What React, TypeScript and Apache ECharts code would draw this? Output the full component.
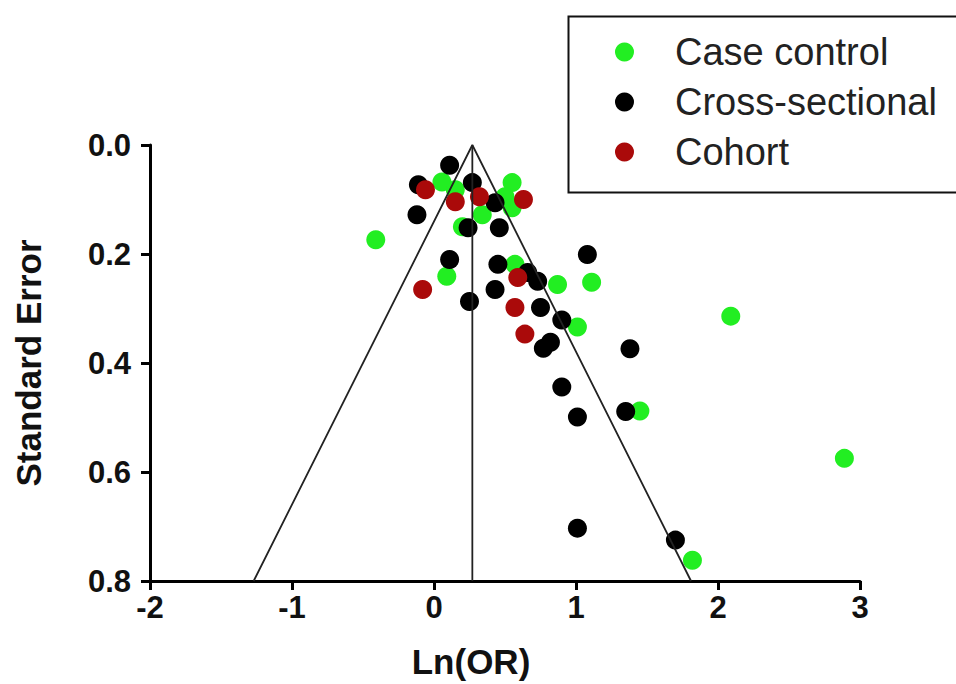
import React, { useEffect, useRef } from "react";
import * as echarts from "echarts";

// Case control: [Ln(OR), Standard Error]
const caseControl: number[][] = [
  [-0.41, 0.174], [0.056, 0.068], [0.15, 0.082], [0.55, 0.069], [0.5, 0.095],
  [0.55, 0.115], [0.34, 0.128], [0.2, 0.15], [0.09, 0.241], [0.57, 0.219],
  [0.87, 0.256], [1.11, 0.252], [1.01, 0.334], [2.09, 0.314], [1.45, 0.488],
  [2.89, 0.575], [1.82, 0.762],
];
const crossSectional: number[][] = [
  [0.11, 0.037], [-0.11, 0.073], [0.27, 0.069], [0.43, 0.106], [-0.12, 0.128],
  [0.24, 0.152], [0.46, 0.152], [0.11, 0.21], [0.45, 0.219], [0.66, 0.234],
  [0.73, 0.25], [1.08, 0.201], [0.43, 0.265], [0.25, 0.287], [0.75, 0.298],
  [0.9, 0.321], [0.77, 0.373], [0.82, 0.362], [1.38, 0.374], [0.9, 0.444],
  [1.01, 0.499], [1.35, 0.489], [1.01, 0.703], [1.7, 0.725],
];
const cohort: number[][] = [
  [-0.06, 0.082], [0.15, 0.104], [0.32, 0.095], [0.63, 0.1], [-0.08, 0.265],
  [0.59, 0.243], [0.57, 0.298], [0.64, 0.347],
];
// funnel outline: pooled estimate and limits at SE = 0.8
const funnelOutline: number[][] = [[-1.27, 0.8], [0.27, 0], [1.81, 0.8]];
const pooledLine: number[][] = [[0.27, 0], [0.27, 0.8]];

const seriesNames = ["Case control", "Cross-sectional", "Cohort"];
const seriesColors = ["#22ee22", "#000000", "#aa0a0a"];

export default function App() {
  const ref = useRef<HTMLDivElement>(null);
  useEffect(() => {
    if (!ref.current) return;
    const chart = echarts.init(ref.current, undefined, { renderer: "svg" });
    const font = "'Liberation Sans', Arial, sans-serif";
    const axisCommon = {
      axisLine: { show: true, onZero: false, lineStyle: { color: "#000", width: 3 } },
      axisTick: { show: true, length: 9, lineStyle: { color: "#000", width: 3 } },
      splitLine: { show: false },
      axisLabel: { color: "#111", fontSize: 31, fontWeight: "bold", fontFamily: font },
      nameTextStyle: { color: "#111", fontSize: 35, fontWeight: "bold", fontFamily: font },
    };
    const scatter = (name: string, data: number[][], color: string) => ({
      type: "scatter",
      name,
      data,
      symbol: "circle",
      symbolSize: 19,
      itemStyle: { color, opacity: 1 },
      z: 2,
    });
    chart.setOption({
      animation: false,
      backgroundColor: "#fff",
      grid: { left: 150, right: 96, top: 145, bottom: 101 },
      xAxis: {
        type: "value",
        min: -2,
        max: 3,
        interval: 1,
        position: "bottom",
        name: "Ln(OR)",
        nameLocation: "middle",
        nameGap: 63,
        ...axisCommon,
        nameTextStyle: { ...axisCommon.nameTextStyle, padding: [0, 68, 0, 0] },
        axisLabel: { ...axisCommon.axisLabel, margin: 11 },
      },
      yAxis: {
        type: "value",
        min: 0,
        max: 0.8,
        interval: 0.2,
        inverse: true,
        name: "Standard Error",
        nameLocation: "middle",
        nameGap: 104,
        ...axisCommon,
        axisLabel: {
          ...axisCommon.axisLabel,
          margin: 19,
          formatter: (v: number) => v.toFixed(1),
        },
      },
      legend: {
        orient: "vertical",
        left: 610,
        top: 28,
        itemWidth: 19,
        itemHeight: 19,
        itemGap: 12,
        icon: "circle",
        data: seriesNames,
        textStyle: {
          color: "#222",
          fontSize: 38,
          fontFamily: font,
          lineHeight: 38,
          padding: [0, 0, 0, 36],
        },
      },
      graphic: [
        {
          type: "rect",
          left: 566,
          top: 14,
          shape: { width: 400, height: 176 },
          style: { fill: "none", stroke: "#111", lineWidth: 2 },
        },
      ],
      series: [
        scatter(seriesNames[0], caseControl, seriesColors[0]),
        scatter(seriesNames[1], crossSectional, seriesColors[1]),
        scatter(seriesNames[2], cohort, seriesColors[2]),
        {
          type: "line",
          data: funnelOutline,
          symbol: "none",
          lineStyle: { color: "#222", width: 1.8 },
          z: 3,
          silent: true,
        },
        {
          type: "line",
          data: pooledLine,
          symbol: "none",
          lineStyle: { color: "#222", width: 1.8 },
          z: 3,
          silent: true,
        },
      ],
    });
    return () => chart.dispose();
  }, []);
  return <div ref={ref} style={{ width: 956, height: 684, position: "absolute", left: 0, top: 0 }} />;
}
